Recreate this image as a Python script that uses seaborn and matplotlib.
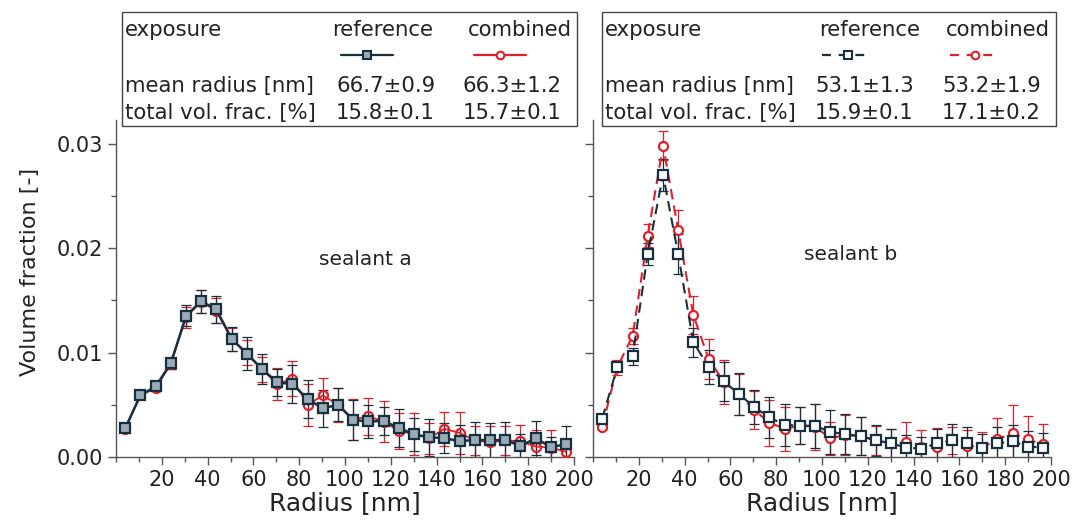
import numpy as np
import pandas as pd
import matplotlib.pyplot as plt
import seaborn as sns
from matplotlib.lines import Line2D
from matplotlib.patches import Rectangle
from matplotlib.ticker import MultipleLocator

sns.set_theme(style="ticks")
plt.rcParams['font.family'] = ['DejaVu Sans']

# radius grid (nm), same for every series
radius = [4.0, 10.6, 17.3, 23.9, 30.6, 37.2, 43.8, 50.5, 57.1, 63.8,
          70.4, 77.0, 83.7, 90.3, 97.0, 103.6, 110.2, 116.9, 123.5, 130.2,
          136.8, 143.4, 150.1, 156.7, 163.4, 170.0, 176.6, 183.3, 189.9, 196.5]

# sealant a
a_ref = [0.00274, 0.0059, 0.00676, 0.00897, 0.01353, 0.01494, 0.01414, 0.01133, 0.0099, 0.00843,
         0.00715, 0.00699, 0.00556, 0.00466, 0.00501, 0.00354, 0.00341, 0.00345, 0.00278, 0.00217,
         0.00188, 0.00182, 0.0015, 0.00166, 0.00159, 0.00166, 0.00102, 0.00182, 0.00092, 0.00125]
a_ref_err = [0.0001, 0.0002, 0.0003, 0.0005, 0.001, 0.0011, 0.0013, 0.00115, 0.0016, 0.0014,
             0.0013, 0.0018, 0.0018, 0.0018, 0.0016, 0.0019, 0.0016, 0.0013, 0.0018, 0.0016,
             0.0018, 0.0014, 0.0016, 0.0017, 0.0017, 0.0017, 0.0012, 0.0016, 0.001, 0.0017]
a_comb = [0.0027, 0.0059, 0.0066, 0.0089, 0.0134, 0.0149, 0.014, 0.0113, 0.01, 0.0084,
          0.007, 0.0075, 0.005, 0.0059, 0.005, 0.0036, 0.0039, 0.0034, 0.0025, 0.0022,
          0.0018, 0.0027, 0.0023, 0.0016, 0.0014, 0.0016, 0.0015, 0.001, 0.0009, 0.0005]
a_comb_err = [0.0001, 0.0002, 0.0003, 0.0005, 0.001, 0.0011, 0.0012, 0.0011, 0.0012, 0.0012,
              0.0015, 0.0017, 0.002, 0.0017, 0.0016, 0.002, 0.0018, 0.002, 0.0017, 0.002,
              0.0015, 0.0016, 0.002, 0.0014, 0.0016, 0.0014, 0.0016, 0.0016, 0.0017, 0.001]

# sealant b
b_ref = [0.00367, 0.00862, 0.00964, 0.01947, 0.02704, 0.01944, 0.01101, 0.00862, 0.00724, 0.00603,
         0.00479, 0.00379, 0.00309, 0.003, 0.003, 0.0024, 0.0022, 0.002, 0.0016, 0.0013,
         0.0009, 0.0008, 0.0013, 0.0016, 0.0013, 0.0009, 0.0013, 0.0015, 0.001, 0.0009]
b_ref_err = [0.0002, 0.0003, 0.0008, 0.00105, 0.0015, 0.0019, 0.0014, 0.0016, 0.0019, 0.002,
             0.0016, 0.002, 0.002, 0.0018, 0.0021, 0.0021, 0.0019, 0.0018, 0.0015, 0.0014,
             0.0012, 0.0011, 0.0014, 0.0016, 0.0016, 0.0013, 0.0016, 0.0016, 0.0015, 0.0014]
b_comb = [0.0029, 0.0086, 0.0116, 0.0212, 0.02985, 0.02177, 0.01363, 0.0094, 0.0072, 0.006,
          0.0045, 0.0033, 0.0027, 0.003, 0.0029, 0.0018, 0.0021, 0.002, 0.0016, 0.0013,
          0.0014, 0.001, 0.001, 0.0016, 0.0011, 0.0009, 0.0017, 0.0023, 0.0017, 0.0012]
b_comb_err = [0.0002, 0.0007, 0.0008, 0.0011, 0.0014, 0.0019, 0.0018, 0.0019, 0.0021, 0.002,
              0.0018, 0.0022, 0.0021, 0.0018, 0.0022, 0.0016, 0.0019, 0.0018, 0.0014, 0.0014,
              0.002, 0.0016, 0.0018, 0.0013, 0.0015, 0.0015, 0.002, 0.0027, 0.0022, 0.002]

mean_radius = {"a": ["66.7±0.9", "66.3±1.2"], "b": ["53.1±1.3", "53.2±1.9"]}
vol_frac = {"a": ["15.8±0.1", "15.7±0.1"], "b": ["15.9±0.1", "17.1±0.2"]}

NAVY = "#17303f"
RED = "#e0202a"
FILL = "#9aabb7"
TXT = "#222222"
DASH = (0, (5, 3))

W, H = 1073, 521
fig = plt.figure(figsize=(W / 100, H / 100), dpi=100)
ax_a = fig.add_axes([116 / W, 64 / H, (574 - 116) / W, (457 - 120) / H])
ax_b = fig.add_axes([593 / W, 64 / H, (1051 - 593) / W, (457 - 120) / H])


def draw_series(ax, y, err, color, marker, face, ls, lw):
    ax.errorbar(radius, y, yerr=err, fmt="none", ecolor=color, elinewidth=0.9,
                capsize=3.5, capthick=0.9, zorder=2)
    df = pd.DataFrame({"radius": radius, "vf": y})
    sns.lineplot(data=df, x="radius", y="vf", ax=ax, color=color, marker=marker,
                 markersize=6.5, markerfacecolor=face, markeredgecolor=color,
                 markeredgewidth=1.6, linestyle=ls, linewidth=lw, zorder=3)


draw_series(ax_a, a_comb, a_comb_err, RED, "o", "none", "-", 1.3)
draw_series(ax_a, a_ref, a_ref_err, NAVY, "s", FILL, "-", 1.8)
draw_series(ax_b, b_comb, b_comb_err, RED, "o", "white", DASH, 1.5)
draw_series(ax_b, b_ref, b_ref_err, NAVY, "s", "white", DASH, 1.5)

ax_a.text(109, 0.0189, "sealant a", ha="center", va="center", fontsize=14.5, color=TXT)
ax_b.text(112.7, 0.0194, "sealant b", ha="center", va="center", fontsize=14.5, color=TXT)

for ax in (ax_a, ax_b):
    ax.set_xlim(0, 200)
    ax.set_ylim(0, 0.0323)
    ax.set_xticks(np.arange(20, 201, 20))
    ax.xaxis.set_minor_locator(MultipleLocator(10))
    ax.yaxis.set_major_locator(MultipleLocator(0.01))
    ax.yaxis.set_minor_locator(MultipleLocator(0.005))
    ax.tick_params(which="major", direction="out", length=6, width=1, color="#555555",
                   labelsize=15, labelcolor=TXT)
    ax.tick_params(which="minor", direction="out", length=3.5, width=1, color="#555555")
    sns.despine(ax=ax)
    for s in ("left", "bottom"):
        ax.spines[s].set_color("#555555")
        ax.spines[s].set_linewidth(1)
    ax.set_xlabel("Radius [nm]", fontsize=18, color=TXT, labelpad=1)
    ax.set_ylabel("")

ax_a.yaxis.set_major_formatter(plt.FuncFormatter(lambda v, p: f"{v:.2f}"))
ax_b.set_yticklabels([])
fig.text(30 / W, 1 - 272 / H, "Volume fraction [-]", rotation=90, ha="center",
         va="center", fontsize=16, color=TXT)


def draw_table(key, x0, x1, ref_c, comb_c, ref_v, comb_v, marks, face, ls):
    y0, y1 = 1 - 126 / H, 1 - 12 / H
    fig.add_artist(Rectangle((x0 / W, y0), (x1 - x0) / W, y1 - y0, transform=fig.transFigure,
                             facecolor="white", edgecolor="#444444", linewidth=1, zorder=5))
    kw = dict(fontsize=15.3, color=TXT, va="center", zorder=6)
    fig.text((x0 + 3) / W, 1 - 30 / H, "exposure", **kw)
    fig.text(ref_c / W, 1 - 30 / H, "reference", ha="center", **kw)
    fig.text(comb_c / W, 1 - 30 / H, "combined", ha="center", **kw)
    fig.text((x0 + 3) / W, 1 - 86 / H, "mean radius [nm]", **kw)
    fig.text((x0 + 3) / W, 1 - 113 / H, "total vol. frac. [%]", **kw)
    for vx, v1, v2 in ((ref_v, mean_radius[key][0], vol_frac[key][0]),
                       (comb_v, mean_radius[key][1], vol_frac[key][1])):
        fig.text(vx / W, 1 - 86 / H, v1, **kw)
        fig.text(vx / W, 1 - 113 / H, v2, **kw)
    for (lx0, mx, lx1), col, mk, fc in zip(marks, (NAVY, RED), ("s", "o"), (face, "white")):
        fig.add_artist(Line2D([lx0 / W, lx1 / W], [1 - 55 / H] * 2,
                              transform=fig.transFigure, color=col, linestyle=ls, linewidth=1.6,
                              zorder=6))
        fig.add_artist(Line2D([mx / W], [1 - 55 / H], transform=fig.transFigure, color=col,
                              marker=mk, markersize=5.5, markerfacecolor=fc, markeredgecolor=col,
                              markeredgewidth=1.5, linestyle="none", zorder=7))


draw_table("a", 122, 577, 383, 520, 336, 463, [(341, 367, 393), (474, 500, 526)], FILL, "-")
draw_table("b", 602, 1056, 870, 998, 815, 942, [(822, 848, 866), (950, 975, 993)], "white",
           (0, (4, 3.5)))

fig.savefig("out.png", dpi=100)
